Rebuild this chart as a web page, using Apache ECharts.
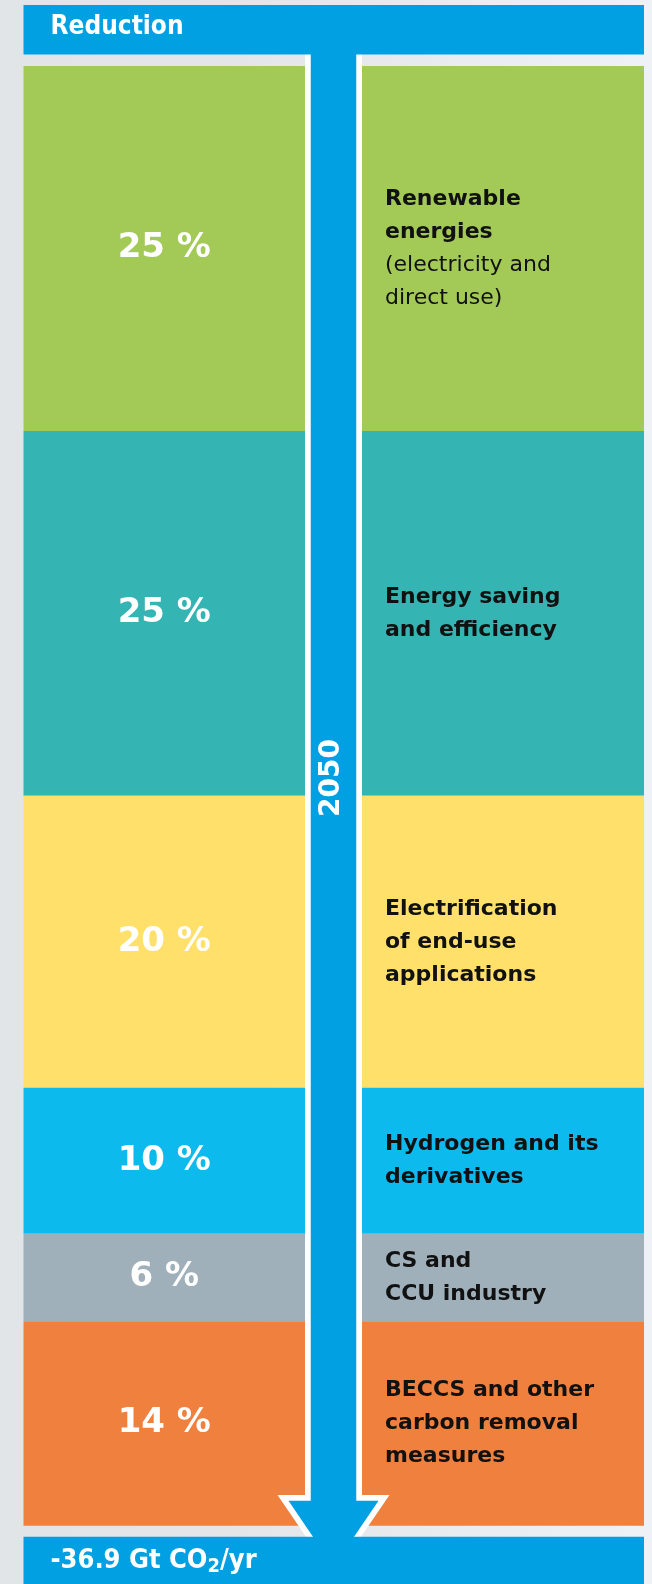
<!DOCTYPE html>
<html>
<head>
<meta charset="utf-8">
<script src="https://cdn.jsdelivr.net/npm/echarts@6/dist/echarts.min.js"></script>
<style>
  html, body { margin: 0; padding: 0; }
  #chart { width: 652px; height: 1584px; }
</style>
</head>
<body>
<div id="chart"></div>
<script>
// ---- data ----
const categories = [
  'Renewable\nenergies',
  'Energy saving\nand efficiency',
  'Electrification\nof end-use\napplications',
  'Hydrogen and its\nderivatives',
  'CS and\nCCU industry',
  'BECCS and other\ncarbon removal\nmeasures'
];
const notes = ['(electricity and\ndirect use)', '', '', '', '', ''];
const shares = [25, 25, 20, 10, 6, 14];
const headerTitle = 'Reduction';
const yearLabel = '2050';
const totalValue = '-36.9';
const totalUnit = 'Gt CO';
const totalSub = '2';
const totalTail = '/yr';

// ---- styles ----
const palette = ['#a3c957', '#35b4b4', '#fee06a', '#0dbaee', '#9fb0bb', '#f0803d'];
const BLUE = '#00a0e3';

const chart = echarts.init(document.getElementById('chart'), null, { renderer: 'canvas' });

const GRID_TOP = 66, GRID_H = 1459.7;
const series = [];
shares.forEach((v, i) => {
  series.push({
    type: 'bar', xAxisIndex: 0, yAxisIndex: 0, stack: 'left',
    data: [v], barWidth: '100%', itemStyle: { color: palette[i] },
    silent: true,
    label: {
      show: true, position: 'inside', formatter: '{c} %',
      color: '#ffffff', fontFamily: 'DejaVu Sans', fontSize: 34, fontWeight: 'bold'
    }
  });
  const boldLines = categories[i].split('\n').map(s => '{b|' + s + '}');
  const noteLines = notes[i] ? notes[i].split('\n').map(s => '{r|' + s + '}') : [];
  const txt = boldLines.concat(noteLines).join('\n');
  series.push({
    type: 'bar', xAxisIndex: 1, yAxisIndex: 1, stack: 'right',
    data: [v], barWidth: '100%', itemStyle: { color: palette[i] },
    silent: true,
    label: {
      show: true, position: 'insideLeft', distance: 23,
      formatter: () => txt,
      rich: {
        b: { fontFamily: 'DejaVu Sans', fontWeight: 'bold', fontSize: 22, color: '#111111', lineHeight: 33 },
        r: { fontFamily: 'DejaVu Sans', fontWeight: 'normal', fontSize: 22, color: '#111111', lineHeight: 33 }
      }
    }
  });
});

// arrow geometry (decoration)
const CX = 333.5;
const inner = [
  [CX - 22.75, 40], [CX + 22.75, 40], [CX + 22.75, 1500.7], [CX + 45, 1500.7],
  [CX, 1567], [CX - 45, 1500.7], [CX - 22.75, 1500.7]
];
const outer = [
  [CX - 28.5, 40], [CX + 28.5, 40], [CX + 28.5, 1495], [CX + 56, 1495],
  [CX, 1577], [CX - 56, 1495], [CX - 28.5, 1495]
];

const FONT_FAM = '"DejaVu Sans Condensed", "DejaVu Sans"';

chart.setOption({
  animation: false,
  grid: [
    { left: 23.5, top: GRID_TOP, width: 281.5, height: GRID_H },
    { left: 362, top: GRID_TOP, width: 282, height: GRID_H }
  ],
  xAxis: [
    { type: 'category', gridIndex: 0, data: ['share'], show: false },
    { type: 'category', gridIndex: 1, data: ['label'], show: false }
  ],
  yAxis: [
    { type: 'value', gridIndex: 0, min: 0, max: 100, inverse: true, show: false },
    { type: 'value', gridIndex: 1, min: 0, max: 100, inverse: true, show: false }
  ],
  series: series,
  graphic: [
    {
      type: 'rect', z: -10, silent: true,
      shape: { x: 0, y: 0, width: 652, height: 1584 },
      style: {
        fill: new echarts.graphic.LinearGradient(0, 0, 1, 0, [
          { offset: 0, color: '#e2e5e8' },
          { offset: 0.35, color: '#e3e5e7' },
          { offset: 1, color: '#eef2f7' }
        ])
      }
    },
    { type: 'polygon', z: 100, silent: true, shape: { points: outer }, style: { fill: '#ffffff' } },
    { type: 'polygon', z: 101, silent: true, shape: { points: inner }, style: { fill: BLUE } },
    {
      type: 'text', z: 102, silent: true, x: 332, y: 778, rotation: Math.PI / 2,
      style: { text: yearLabel, fill: '#ffffff', font: 'bold 28px "DejaVu Sans"', align: 'center', verticalAlign: 'middle' }
    },
    { type: 'rect', z: 110, silent: true, shape: { x: 23.5, y: 5, width: 620.5, height: 49.5 }, style: { fill: BLUE } },
    {
      type: 'text', z: 111, silent: true, x: 50.5, y: 27.5,
      style: { text: headerTitle, fill: '#ffffff', font: 'bold 26px ' + FONT_FAM, align: 'left', verticalAlign: 'middle' }
    },
    { type: 'rect', z: 110, silent: true, shape: { x: 23.5, y: 1536.7, width: 620.5, height: 60 }, style: { fill: BLUE } },
    {
      type: 'text', z: 111, silent: true, x: 50.5, y: 1560.5,
      style: {
        text: '{a|' + totalValue + '}{a| ' + totalUnit + '}{s|' + totalSub + '}{a|' + totalTail + '}',
        align: 'left', verticalAlign: 'middle',
        rich: {
          a: { fill: '#ffffff', fontFamily: FONT_FAM, fontWeight: 'bold', fontSize: 27 },
          s: { fill: '#ffffff', fontFamily: FONT_FAM, fontWeight: 'bold', fontSize: 20, padding: [12, 0, 0, 0] }
        }
      }
    }
  ]
});
</script>
</body>
</html>
